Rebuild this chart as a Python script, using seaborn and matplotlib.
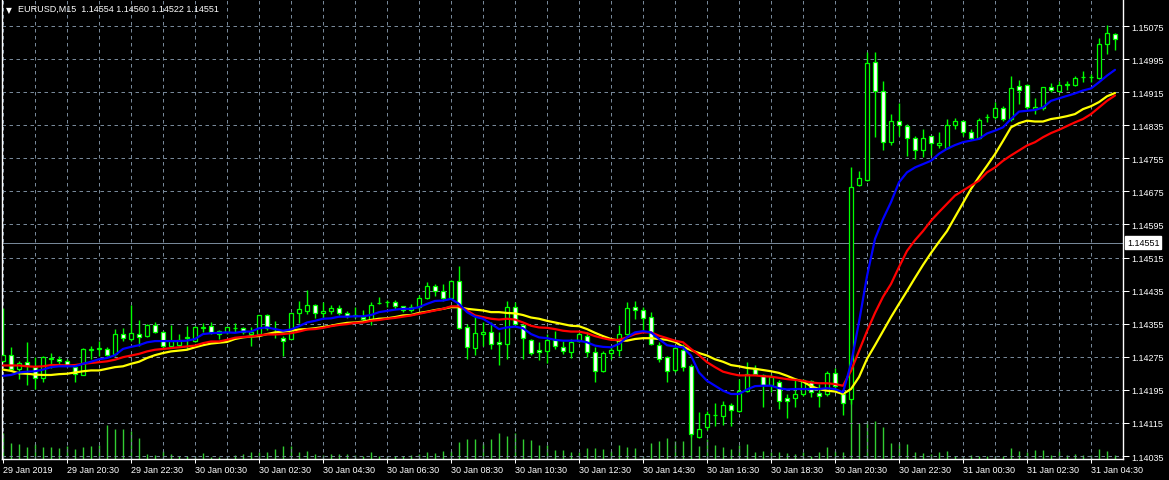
import numpy as np
import pandas as pd
import matplotlib
matplotlib.use("Agg")
import matplotlib.pyplot as plt
import seaborn as sns

# EURUSD M15, 140 bars from 29 Jan 2019 18:30 to 31 Jan 2019 05:15
opens = [1.14264, 1.14279, 1.14246, 1.14262, 1.14250, 1.14223, 1.14270, 1.14269, 1.14266, 1.14250,
         1.14232, 1.14292, 1.14295, 1.14293, 1.14282, 1.14329, 1.14318, 1.14329, 1.14325, 1.14351,
         1.14334, 1.14302, 1.14303, 1.14320, 1.14314, 1.14345, 1.14349, 1.14330, 1.14334, 1.14344,
         1.14344, 1.14331, 1.14330, 1.14375, 1.14342, 1.14320, 1.14318, 1.14381, 1.14385, 1.14401,
         1.14381, 1.14385, 1.14393, 1.14381, 1.14374, 1.14371, 1.14367, 1.14404, 1.14407, 1.14407,
         1.14397, 1.14387, 1.14395, 1.14416, 1.14445, 1.14433, 1.14416, 1.14459, 1.14346, 1.14296,
         1.14329, 1.14334, 1.14310, 1.14307, 1.14395, 1.14353, 1.14316, 1.14292, 1.14290, 1.14316,
         1.14298, 1.14287, 1.14314, 1.14325, 1.14286, 1.14240, 1.14284, 1.14292, 1.14330, 1.14395,
         1.14389, 1.14371, 1.14303, 1.14274, 1.14242, 1.14292, 1.14252, 1.14082, 1.14104, 1.14134,
         1.14132, 1.14159, 1.14143, 1.14193, 1.14246, 1.14230, 1.14207, 1.14214, 1.14175, 1.14175,
         1.14185, 1.14216, 1.14187, 1.14185, 1.14236, 1.14185, 1.14173, 1.14690, 1.14703, 1.14987,
         1.14919, 1.14794, 1.14845, 1.14834, 1.14803, 1.14776, 1.14808, 1.14786, 1.14781, 1.14836,
         1.14845, 1.14818, 1.14803, 1.14854, 1.14855, 1.14876, 1.14850, 1.14929, 1.14932, 1.14874,
         1.14876, 1.14927, 1.14919, 1.14933, 1.14932, 1.14951, 1.14951, 1.14949, 1.15031, 1.15056]
highs = [1.14392, 1.14298, 1.14266, 1.14310, 1.14274, 1.14278, 1.14284, 1.14278, 1.14269, 1.14258,
         1.14296, 1.14302, 1.14312, 1.14298, 1.14342, 1.14344, 1.14400, 1.14364, 1.14354, 1.14358,
         1.14338, 1.14351, 1.14330, 1.14349, 1.14349, 1.14356, 1.14360, 1.14340, 1.14347, 1.14356,
         1.14346, 1.14346, 1.14376, 1.14378, 1.14362, 1.14325, 1.14382, 1.14411, 1.14437, 1.14402,
         1.14407, 1.14400, 1.14400, 1.14386, 1.14395, 1.14387, 1.14407, 1.14420, 1.14413, 1.14413,
         1.14399, 1.14403, 1.14424, 1.14455, 1.14451, 1.14451, 1.14461, 1.14495, 1.14354, 1.14374,
         1.14358, 1.14358, 1.14334, 1.14411, 1.14407, 1.14354, 1.14318, 1.14310, 1.14330, 1.14338,
         1.14314, 1.14318, 1.14334, 1.14334, 1.14298, 1.14290, 1.14298, 1.14351, 1.14407, 1.14409,
         1.14395, 1.14383, 1.14310, 1.14276, 1.14302, 1.14306, 1.14257, 1.14141, 1.14144, 1.14164,
         1.14169, 1.14164, 1.14221, 1.14263, 1.14256, 1.14234, 1.14234, 1.14218, 1.14185, 1.14218,
         1.14222, 1.14219, 1.14209, 1.14240, 1.14247, 1.14193, 1.14733, 1.14725, 1.15011, 1.15011,
         1.14943, 1.14862, 1.14889, 1.14838, 1.14810, 1.14826, 1.14809, 1.14819, 1.14850, 1.14853,
         1.14848, 1.14826, 1.14852, 1.14862, 1.14890, 1.14881, 1.14955, 1.14945, 1.14934, 1.14902,
         1.14928, 1.14937, 1.14943, 1.14943, 1.14955, 1.14967, 1.14959, 1.15045, 1.15077, 1.15058]
lows = [1.14262, 1.14241, 1.14221, 1.14207, 1.14197, 1.14215, 1.14248, 1.14254, 1.14250, 1.14215,
        1.14230, 1.14269, 1.14278, 1.14276, 1.14278, 1.14314, 1.14314, 1.14302, 1.14324, 1.14332,
        1.14294, 1.14298, 1.14298, 1.14294, 1.14311, 1.14334, 1.14330, 1.14318, 1.14330, 1.14334,
        1.14330, 1.14300, 1.14325, 1.14340, 1.14320, 1.14278, 1.14317, 1.14357, 1.14379, 1.14369,
        1.14369, 1.14379, 1.14376, 1.14370, 1.14369, 1.14362, 1.14351, 1.14402, 1.14395, 1.14391,
        1.14383, 1.14383, 1.14391, 1.14415, 1.14423, 1.14411, 1.14415, 1.14342, 1.14269, 1.14279,
        1.14302, 1.14294, 1.14254, 1.14269, 1.14351, 1.14269, 1.14279, 1.14267, 1.14259, 1.14294,
        1.14282, 1.14272, 1.14310, 1.14274, 1.14215, 1.14239, 1.14269, 1.14278, 1.14328, 1.14367,
        1.14338, 1.14303, 1.14263, 1.14215, 1.14239, 1.14241, 1.14080, 1.14079, 1.14099, 1.14107,
        1.14111, 1.14107, 1.14141, 1.14190, 1.14230, 1.14153, 1.14189, 1.14149, 1.14127, 1.14153,
        1.14181, 1.14177, 1.14153, 1.14181, 1.14199, 1.14134, 1.14161, 1.14689, 1.14700, 1.14806,
        1.14774, 1.14786, 1.14810, 1.14760, 1.14753, 1.14757, 1.14763, 1.14779, 1.14778, 1.14826,
        1.14810, 1.14800, 1.14801, 1.14842, 1.14850, 1.14846, 1.14846, 1.14886, 1.14874, 1.14862,
        1.14873, 1.14915, 1.14916, 1.14921, 1.14931, 1.14939, 1.14939, 1.14947, 1.15007, 1.15018]
closes = [1.14279, 1.14246, 1.14260, 1.14255, 1.14224, 1.14274, 1.14272, 1.14264, 1.14256, 1.14234,
          1.14294, 1.14294, 1.14296, 1.14280, 1.14330, 1.14320, 1.14333, 1.14324, 1.14351, 1.14334,
          1.14302, 1.14314, 1.14316, 1.14324, 1.14346, 1.14346, 1.14334, 1.14338, 1.14346, 1.14345,
          1.14336, 1.14336, 1.14375, 1.14344, 1.14343, 1.14314, 1.14381, 1.14391, 1.14401, 1.14381,
          1.14385, 1.14393, 1.14381, 1.14374, 1.14375, 1.14367, 1.14401, 1.14405, 1.14408, 1.14398,
          1.14387, 1.14395, 1.14416, 1.14445, 1.14433, 1.14416, 1.14459, 1.14344, 1.14298, 1.14332,
          1.14334, 1.14305, 1.14305, 1.14395, 1.14354, 1.14320, 1.14284, 1.14286, 1.14316, 1.14300,
          1.14290, 1.14310, 1.14330, 1.14286, 1.14240, 1.14284, 1.14292, 1.14330, 1.14392, 1.14389,
          1.14369, 1.14305, 1.14269, 1.14240, 1.14296, 1.14250, 1.14088, 1.14101, 1.14136, 1.14135,
          1.14159, 1.14146, 1.14193, 1.14234, 1.14234, 1.14206, 1.14225, 1.14168, 1.14167, 1.14185,
          1.14218, 1.14191, 1.14180, 1.14236, 1.14204, 1.14163, 1.14685, 1.14707, 1.14986, 1.14919,
          1.14794, 1.14845, 1.14836, 1.14803, 1.14775, 1.14803, 1.14791, 1.14791, 1.14836, 1.14845,
          1.14818, 1.14803, 1.14848, 1.14855, 1.14876, 1.14850, 1.14924, 1.14921, 1.14878, 1.14879,
          1.14927, 1.14920, 1.14933, 1.14934, 1.14950, 1.14952, 1.14952, 1.15031, 1.15057, 1.15044]

# tick volumes
volumes = [520, 320, 300, 234, 300, 234, 234, 214, 266, 200,
           234, 266, 286, 680, 600, 600, 566, 414, 100, 80,
           166, 100, 66, 66, 66, 120, 40, 40, 40, 86,
           100, 134, 146, 146, 200, 254, 270, 134, 160, 100,
           80, 100, 100, 100, 80, 54, 146, 66, 54, 66,
           54, 80, 100, 134, 120, 160, 160, 346, 400, 400,
           330, 400, 520, 466, 520, 406, 386, 290, 290, 180,
           180, 146, 140, 220, 226, 200, 160, 286, 246, 226,
           66, 326, 360, 420, 366, 354, 540, 266, 400, 280,
           234, 200, 286, 300, 134, 166, 134, 146, 120, 100,
           134, 66, 134, 234, 166, 134, 1200, 720, 760, 760,
           634, 320, 320, 300, 134, 120, 100, 140, 160, 66,
           66, 80, 66, 54, 54, 66, 214, 160, 146, 180,
           180, 80, 154, 80, 100, 80, 86, 200, 154, 80]

# moving averages
ma_blue = [1.14229, 1.14231, 1.14237, 1.14239, 1.14240, 1.14244, 1.14250, 1.14252, 1.14252, 1.14252,
           1.14258, 1.14263, 1.14269, 1.14272, 1.14279, 1.14294, 1.14299, 1.14303, 1.14310, 1.14313,
           1.14313, 1.14313, 1.14313, 1.14314, 1.14318, 1.14330, 1.14332, 1.14333, 1.14334, 1.14333,
           1.14336, 1.14336, 1.14344, 1.14346, 1.14342, 1.14338, 1.14341, 1.14349, 1.14358, 1.14362,
           1.14367, 1.14368, 1.14372, 1.14372, 1.14373, 1.14373, 1.14376, 1.14383, 1.14386, 1.14389,
           1.14391, 1.14391, 1.14395, 1.14403, 1.14410, 1.14411, 1.14415, 1.14403, 1.14383, 1.14372,
           1.14367, 1.14355, 1.14342, 1.14346, 1.14348, 1.14344, 1.14330, 1.14322, 1.14320, 1.14316,
           1.14314, 1.14314, 1.14314, 1.14310, 1.14302, 1.14299, 1.14298, 1.14306, 1.14322, 1.14334,
           1.14337, 1.14334, 1.14318, 1.14303, 1.14300, 1.14298, 1.14278, 1.14237, 1.14217, 1.14205,
           1.14193, 1.14185, 1.14185, 1.14196, 1.14204, 1.14205, 1.14205, 1.14199, 1.14196, 1.14197,
           1.14197, 1.14197, 1.14197, 1.14199, 1.14197, 1.14189, 1.14258, 1.14359, 1.14470, 1.14560,
           1.14608, 1.14649, 1.14697, 1.14721, 1.14733, 1.14741, 1.14749, 1.14766, 1.14778, 1.14787,
           1.14794, 1.14798, 1.14802, 1.14815, 1.14822, 1.14830, 1.14850, 1.14868, 1.14870, 1.14872,
           1.14878, 1.14894, 1.14900, 1.14906, 1.14912, 1.14919, 1.14924, 1.14939, 1.14955, 1.14969]
ma_red = [1.14254, 1.14254, 1.14254, 1.14252, 1.14251, 1.14252, 1.14255, 1.14255, 1.14254, 1.14255,
          1.14258, 1.14260, 1.14262, 1.14264, 1.14268, 1.14274, 1.14278, 1.14282, 1.14288, 1.14292,
          1.14294, 1.14296, 1.14298, 1.14300, 1.14302, 1.14308, 1.14312, 1.14312, 1.14316, 1.14321,
          1.14323, 1.14324, 1.14327, 1.14329, 1.14329, 1.14330, 1.14332, 1.14336, 1.14341, 1.14342,
          1.14345, 1.14349, 1.14352, 1.14354, 1.14357, 1.14358, 1.14362, 1.14364, 1.14367, 1.14369,
          1.14372, 1.14375, 1.14379, 1.14383, 1.14387, 1.14391, 1.14397, 1.14397, 1.14387, 1.14375,
          1.14371, 1.14367, 1.14365, 1.14367, 1.14365, 1.14358, 1.14350, 1.14346, 1.14345, 1.14342,
          1.14338, 1.14336, 1.14336, 1.14332, 1.14325, 1.14320, 1.14316, 1.14316, 1.14322, 1.14330,
          1.14334, 1.14334, 1.14326, 1.14320, 1.14314, 1.14310, 1.14294, 1.14279, 1.14262, 1.14250,
          1.14239, 1.14234, 1.14230, 1.14230, 1.14230, 1.14228, 1.14227, 1.14224, 1.14221, 1.14219,
          1.14217, 1.14213, 1.14211, 1.14211, 1.14209, 1.14205, 1.14241, 1.14289, 1.14337, 1.14381,
          1.14420, 1.14451, 1.14492, 1.14531, 1.14557, 1.14579, 1.14604, 1.14625, 1.14645, 1.14665,
          1.14677, 1.14689, 1.14701, 1.14721, 1.14733, 1.14749, 1.14762, 1.14774, 1.14786, 1.14794,
          1.14806, 1.14816, 1.14824, 1.14833, 1.14842, 1.14850, 1.14862, 1.14878, 1.14894, 1.14907]
ma_yellow = [1.14244, 1.14241, 1.14235, 1.14234, 1.14232, 1.14231, 1.14231, 1.14233, 1.14234, 1.14237,
             1.14240, 1.14242, 1.14242, 1.14246, 1.14250, 1.14252, 1.14258, 1.14263, 1.14272, 1.14279,
             1.14284, 1.14288, 1.14290, 1.14292, 1.14298, 1.14303, 1.14307, 1.14309, 1.14311, 1.14318,
             1.14322, 1.14324, 1.14325, 1.14330, 1.14334, 1.14336, 1.14338, 1.14341, 1.14342, 1.14344,
             1.14347, 1.14350, 1.14354, 1.14357, 1.14358, 1.14360, 1.14364, 1.14367, 1.14368, 1.14371,
             1.14375, 1.14376, 1.14381, 1.14384, 1.14388, 1.14391, 1.14395, 1.14395, 1.14391, 1.14389,
             1.14387, 1.14383, 1.14383, 1.14381, 1.14380, 1.14376, 1.14370, 1.14367, 1.14362, 1.14358,
             1.14354, 1.14350, 1.14349, 1.14342, 1.14333, 1.14325, 1.14318, 1.14314, 1.14314, 1.14318,
             1.14320, 1.14320, 1.14318, 1.14316, 1.14311, 1.14299, 1.14291, 1.14284, 1.14278, 1.14269,
             1.14263, 1.14255, 1.14252, 1.14248, 1.14246, 1.14243, 1.14240, 1.14236, 1.14229, 1.14221,
             1.14215, 1.14204, 1.14197, 1.14193, 1.14191, 1.14185, 1.14197, 1.14226, 1.14270, 1.14303,
             1.14337, 1.14371, 1.14403, 1.14434, 1.14466, 1.14497, 1.14526, 1.14553, 1.14579, 1.14613,
             1.14647, 1.14681, 1.14710, 1.14737, 1.14765, 1.14797, 1.14830, 1.14840, 1.14846, 1.14844,
             1.14844, 1.14850, 1.14853, 1.14857, 1.14862, 1.14874, 1.14881, 1.14891, 1.14905, 1.14913]

time_labels = ["29 Jan 2019", "29 Jan 20:30", "29 Jan 22:30", "30 Jan 00:30", "30 Jan 02:30",
               "30 Jan 04:30", "30 Jan 06:30", "30 Jan 08:30", "30 Jan 10:30", "30 Jan 12:30",
               "30 Jan 14:30", "30 Jan 16:30", "30 Jan 18:30", "30 Jan 20:30", "30 Jan 22:30",
               "31 Jan 00:30", "31 Jan 02:30", "31 Jan 04:30"]
price_ticks = [1.14035, 1.14115, 1.14195, 1.14275, 1.14355, 1.14435, 1.14515,
               1.14595, 1.14675, 1.14755, 1.14835, 1.14915, 1.14995, 1.15075]
last_price = 1.14551
header = "EURUSD,M15  1.14554 1.14560 1.14522 1.14551"

# colours (MT4 green on black)
GREEN = "#00FF00"
VOL_GREEN = "#32CD32"
GRID = "#778899"
ma_colors = {"yellow": "#FFFF00", "red": "#FF0000", "blue": "#0000FF"}
PX = 0.72  # one pixel at 100 dpi, in points

sns.set_theme(style="dark", rc={"axes.facecolor": "black", "figure.facecolor": "black",
                                "savefig.facecolor": "black"})
plt.rcParams["font.family"] = ["Liberation Sans", "DejaVu Sans"]

n = len(closes)
bars = np.arange(n)
o = np.array(opens)
c = np.array(closes)

fig = plt.figure(figsize=(11.69, 4.81), dpi=100)
rect = [2 / 1169, 21 / 481, 1121 / 1169, 460 / 481]
vax = fig.add_axes(rect, zorder=0)
ax = fig.add_axes(rect, zorder=1)
ax.patch.set_visible(False)

# volumes (own scale, drawn at the bottom)
vax.set_facecolor("black")
vax.vlines(bars, 0, volumes, color=VOL_GREEN, linewidth=1.0, snap=True)
vax.set_xlim(-0.125, 140)
vax.set_ylim(0, 9200)
vax.set_xticks([])
vax.set_yticks([])
for s in vax.spines.values():
    s.set_visible(False)

# grid
ax.set_xticks(np.arange(0, n, 8))
ax.set_xticks(np.arange(4, n, 8), minor=True)
ax.set_yticks(price_ticks)
ax.grid(True, which="both", axis="x", color=GRID, linestyle=(0, (3.5, 3.5)), linewidth=PX)
ax.grid(True, which="major", axis="y", color=GRID, linestyle=(0, (3.5, 3.5)), linewidth=PX)
ax.set_axisbelow(True)

# current price line
ax.axhline(last_price, color=GRID, linewidth=PX, zorder=1, snap=True)

# candles
ax.vlines(bars, lows, highs, color=GREEN, linewidth=1.0, zorder=2, snap=True)
body_h = np.maximum(np.abs(c - o), 0.000004)
body_b = np.minimum(o, c)
fills = np.where(c < o, "white", "black")
ax.bar(bars, body_h, bottom=body_b, width=0.5, color=fills, edgecolor=GREEN,
       linewidth=0.9, zorder=3, snap=True)

# moving averages
ma_df = pd.DataFrame({
    "bar": np.tile(bars, 3),
    "price": ma_yellow + ma_red + ma_blue,
    "line": ["yellow"] * n + ["red"] * n + ["blue"] * n,
})
sns.lineplot(data=ma_df, x="bar", y="price", hue="line", hue_order=["yellow", "red", "blue"],
             palette=ma_colors, linewidth=1.6, legend=False, ax=ax, zorder=4)

ax.set_xlim(-0.125, 140)
ax.set_ylim(1.140278, 1.151403)
ax.set_xlabel("")
ax.set_ylabel("")

# axes styling
ax.yaxis.tick_right()
ax.set_yticklabels([f"{p:.5f}" for p in price_ticks])
ax.set_xticklabels(time_labels, ha="left")
ax.tick_params(axis="y", which="major", right=True, left=False, colors="white",
               length=4, width=PX, pad=2, labelsize=6.5)
ax.tick_params(axis="x", which="major", bottom=True, colors="white",
               length=3, width=PX, pad=1.5, labelsize=6.5)
ax.tick_params(axis="x", which="minor", length=0)
for side in ["left", "right", "bottom"]:
    ax.spines[side].set_color("white")
    ax.spines[side].set_linewidth(1)
    ax.spines[side].set_visible(True)
ax.spines["top"].set_visible(False)

# header and price label
ax.text(0.0035, 0.988, "\u25BC", transform=ax.transAxes, color="white", fontsize=5.5,
        va="top", ha="left", family=["DejaVu Sans"])
ax.text(0.0145, 0.99, header, transform=ax.transAxes, color="white", fontsize=6.5,
        va="top", ha="left")
ax.annotate(f"{last_price:.5f}", xy=(1, last_price), xycoords=("axes fraction", "data"),
            xytext=(3, 0), textcoords="offset points", color="black", fontsize=6.5,
            va="center", ha="left", annotation_clip=False,
            bbox=dict(boxstyle="square,pad=0.2", fc="white", ec="white"))

fig.savefig("out.png", dpi=100, facecolor="black")
